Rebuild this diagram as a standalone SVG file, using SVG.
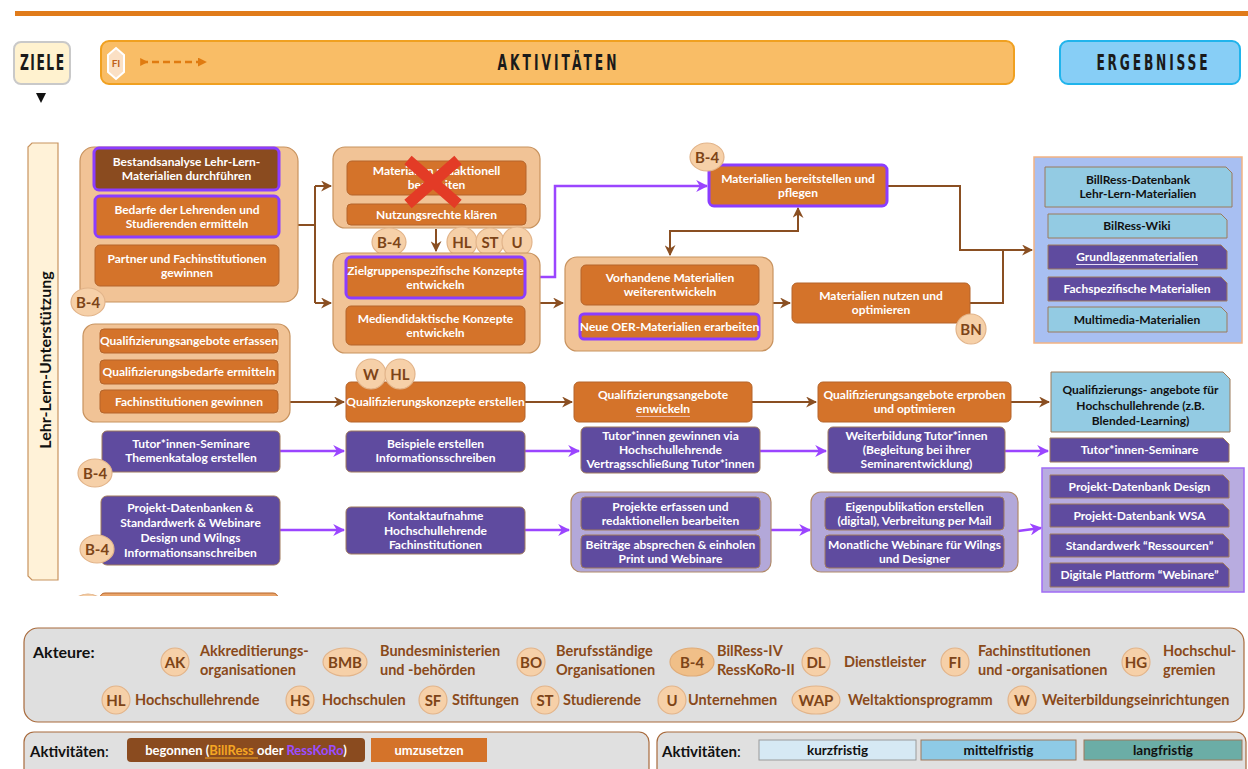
<svg xmlns="http://www.w3.org/2000/svg" width="1248" height="769" viewBox="0 0 1248 769">
<defs>
  <style>
    .o{fill:#d4732a;stroke:#b5652b;stroke-width:1}
    .d{fill:#8a4b1f;stroke:#8a4b1f;stroke-width:1}
    .p{fill:#5f4b9f;stroke:#a07a5c;stroke-width:1}
    .hl{stroke:#8b3dff;stroke-width:3}
    .cont{fill:#f1c396;stroke:#c8935f;stroke-width:1.2}
    .pcont{fill:#b3a8d9;stroke:#b08a6a;stroke-width:1.2}
    .lb{fill:#93cbe3;stroke:#9c7a5a;stroke-width:1}
    .t{font-family:Lato,"Open Sans",sans-serif;font-weight:700;font-size:12px;fill:#fff;text-anchor:middle}
    .tk{font-family:Lato,"Open Sans",sans-serif;font-weight:700;font-size:12px;fill:#111;text-anchor:middle}
    .bg{fill:#f6d0a8;stroke:#e2b48a;stroke-width:1.2}
    .bt{font-family:Lato,"Open Sans",sans-serif;font-weight:700;font-size:15px;fill:#7d4418;text-anchor:middle}
    .lt{font-family:Lato,"Open Sans",sans-serif;font-weight:700;font-size:14.5px;fill:#8a4a1a}
    .hd{font-family:"DejaVu Sans Condensed","DejaVu Sans",sans-serif;font-weight:700;font-size:21px;fill:#1a1a1a;text-anchor:middle}
    .cb{fill:none;stroke:#8a4f22;stroke-width:2}
    .cp{fill:none;stroke:#9b45ff;stroke-width:2.5}
  </style>
  <marker id="ab" viewBox="0 0 10 10" refX="9" refY="5" markerWidth="11" markerHeight="11" markerUnits="userSpaceOnUse" orient="auto-start-reverse">
    <path d="M0,0 L10,5 L0,10 L3,5z" fill="#8a4f22"/>
  </marker>
  <marker id="ap" viewBox="0 0 10 10" refX="9" refY="5" markerWidth="12" markerHeight="12" markerUnits="userSpaceOnUse" orient="auto">
    <path d="M0,0 L10,5 L0,10 L3,5z" fill="#9b45ff"/>
  </marker>
  <marker id="af" viewBox="0 0 10 10" refX="9" refY="5" markerWidth="9" markerHeight="9" markerUnits="userSpaceOnUse" orient="auto">
    <path d="M0,0 L10,5 L0,10z" fill="#e07b10"/>
  </marker>
  <marker id="afs" viewBox="0 0 10 10" refX="1" refY="5" markerWidth="8" markerHeight="8" markerUnits="userSpaceOnUse" orient="auto">
    <path d="M0,0 L10,5 L0,10z" fill="#e07b10"/>
  </marker>
  <clipPath id="cut"><rect x="70" y="590" width="220" height="6"/></clipPath>
</defs>

<rect width="1248" height="769" fill="#fff"/>

<!-- top rule -->
<rect x="15" y="11" width="1233" height="5" fill="#e07b1a"/>

<!-- column headers: narrow, letter-spaced capitals -->
<g id="ziele">
  <rect x="14" y="42" width="56" height="42" rx="7" fill="#fff2cf" stroke="#c9c9c9" stroke-width="2"/>
  <text class="hd" transform="translate(42,70) scale(0.65,1)" x="0" y="0" textLength="68" lengthAdjust="spacing">ZIELE</text>
  <path d="M36 93 H46 L41 103 Z" fill="#111"/>
</g>
<g id="aktivitaeten">
  <rect x="101" y="41" width="913" height="43" rx="8" fill="#f9bd66" stroke="#f0a020" stroke-width="2"/>
  <text class="hd" transform="translate(557,70) scale(0.65,1)" x="0" y="0" textLength="183" lengthAdjust="spacing">AKTIVITÄTEN</text>
  <polygon points="116,48 124,55 124,72 116,79 108,72 108,55" fill="#fbe0c4" stroke="#fff" stroke-width="2"/>
  <text x="116" y="67" font-family="Lato,sans-serif" font-size="10" font-weight="700" fill="#c0601a" text-anchor="middle">FI</text>
  <path d="M141 62 H206" stroke="#e07b10" stroke-width="2.5" stroke-dasharray="7,4" fill="none" marker-start="url(#afs)" marker-end="url(#af)"/>
</g>
<g id="ergebnisse">
  <rect x="1060" y="41" width="180" height="43" rx="8" fill="#87cef6" stroke="#20b4ec" stroke-width="2"/>
  <text class="hd" transform="translate(1152,70) scale(0.65,1)" x="0" y="0" textLength="171" lengthAdjust="spacing">ERGEBNISSE</text>
</g>

<!-- side label -->
<g id="side-label">
  <path d="M32 143 H58 V580 H32 L28 576 V147 Z" fill="#fff2d8" stroke="#c8935f" stroke-width="1.2"/>
  <text transform="translate(51,360) rotate(-90)" font-family="Lato,sans-serif" font-weight="700" font-size="16" fill="#111" text-anchor="middle">Lehr-Lern-Unterstützung</text>
</g>

<!-- connectors -->
<g id="connectors">
  <path class="cb" d="M298 225 H315"/>
  <path class="cb" d="M315 186 V303"/>
  <path class="cb" d="M315 186 H331" marker-end="url(#ab)"/>
  <path class="cb" d="M315 303 H331" marker-end="url(#ab)"/>
  <path class="cb" d="M436 229 V251" marker-end="url(#ab)"/>
  <path class="cp" d="M526 277 H555 V186 H707" marker-end="url(#ap)"/>
  <path class="cb" d="M540 303 H563" marker-end="url(#ab)"/>
  <path class="cb" d="M798 208 V231 H670 V255" marker-start="url(#ab)" marker-end="url(#ab)"/>
  <path class="cb" d="M773 303 H790" marker-end="url(#ab)"/>
  <path class="cb" d="M887 186 H960 V250 H1032" marker-end="url(#ab)"/>
  <path class="cb" d="M970 303 H1003 V250"/>

  <path class="cb" d="M278 402 H344" marker-end="url(#ab)"/>
  <path class="cb" d="M525 402 H572" marker-end="url(#ab)"/>
  <path class="cb" d="M752 402 H816" marker-end="url(#ab)"/>
  <path class="cb" d="M1011 402 H1049" marker-end="url(#ab)"/>

  <path class="cp" d="M280 451 H344" marker-end="url(#ap)"/>
  <path class="cp" d="M525 451 H579" marker-end="url(#ap)"/>
  <path class="cp" d="M760 451 H826" marker-end="url(#ap)"/>
  <path class="cp" d="M1005 451 H1048" marker-end="url(#ap)"/>

  <path class="cp" d="M280 530 H344" marker-end="url(#ap)"/>
  <path class="cp" d="M525 530 H569" marker-end="url(#ap)"/>
  <path class="cp" d="M771 530 H810" marker-end="url(#ap)"/>
  <path class="cp" d="M1018 531 L1041 528" marker-end="url(#ap)"/>
</g>

<!-- Row 1: materials -->
<g id="analyse">
  <rect class="cont" x="80" y="147" width="218" height="155" rx="14"/>
  <rect class="d hl" x="94" y="148" width="185" height="42" rx="5"/>
  <text class="t" x="186.5" y="166">Bestandsanalyse Lehr-Lern-</text>
  <text class="t" x="186.5" y="180">Materialien durchführen</text>
  <rect class="o hl" x="95" y="196" width="184" height="41" rx="5"/>
  <text class="t" x="187" y="213.5">Bedarfe der Lehrenden und</text>
  <text class="t" x="187" y="227.5">Studierenden ermitteln</text>
  <rect class="o" x="95" y="245" width="184" height="41" rx="5"/>
  <text class="t" x="187" y="262.5">Partner und Fachinstitutionen</text>
  <text class="t" x="187" y="276.5">gewinnen</text>
  <ellipse class="bg" cx="88" cy="302" rx="17" ry="14"/>
  <text class="bt" x="88" y="307.5">B-4</text>
</g>

<g id="redaktion">
  <rect class="cont" x="333" y="147" width="207" height="81" rx="12"/>
  <rect class="o" x="347" y="161" width="179" height="34" rx="5"/>
  <text class="t" x="436.5" y="175">Materialien redaktionell</text>
  <text class="t" x="436.5" y="189">bearbeiten</text>
  <rect class="o" x="347" y="204" width="179" height="21" rx="4"/>
  <text class="t" x="436.5" y="218.5">Nutzungsrechte klären</text>
  <path d="M408 160 L458 204 M458 160 L408 204" stroke="#e33b26" stroke-width="11"/>
</g>

<g id="badges-r1">
  <ellipse class="bg" cx="389" cy="242" rx="17" ry="14"/>
  <text class="bt" x="389" y="247.5">B-4</text>
  <circle class="bg" cx="462" cy="242" r="15"/>
  <text class="bt" x="462" y="247.5">HL</text>
  <circle class="bg" cx="490" cy="242" r="14"/>
  <text class="bt" x="490" y="247.5">ST</text>
  <circle class="bg" cx="517" cy="242" r="15"/>
  <text class="bt" x="517" y="247.5">U</text>
</g>

<g id="konzepte">
  <rect class="cont" x="333" y="253" width="207" height="100" rx="12"/>
  <rect class="o hl" x="346" y="257" width="179" height="41" rx="5"/>
  <text class="t" x="435.5" y="274.5">Zielgruppenspezifische Konzepte</text>
  <text class="t" x="435.5" y="288.5">entwickeln</text>
  <rect class="o" x="346" y="306" width="179" height="39" rx="5"/>
  <text class="t" x="435.5" y="322.5">Mediendidaktische Konzepte</text>
  <text class="t" x="435.5" y="336.5">entwickeln</text>
</g>

<g id="bereitstellen">
  <rect class="o hl" x="709" y="165" width="178" height="41" rx="5"/>
  <text class="t" x="798" y="182.5">Materialien bereitstellen und</text>
  <text class="t" x="798" y="196.5">pflegen</text>
  <ellipse class="bg" cx="707" cy="157" rx="17" ry="14"/>
  <text class="bt" x="707" y="162.5">B-4</text>
</g>

<g id="weiterentwickeln">
  <rect class="cont" x="565" y="257" width="208" height="94" rx="12"/>
  <rect class="o" x="581" y="265" width="178" height="40" rx="5"/>
  <text class="t" x="670" y="282">Vorhandene Materialien</text>
  <text class="t" x="670" y="296">weiterentwickeln</text>
  <rect class="o hl" x="580" y="314" width="179" height="25" rx="4"/>
  <text class="t" x="669.5" y="330.5">Neue OER-Materialien erarbeiten</text>
</g>

<g id="nutzen">
  <rect class="o" x="792" y="283" width="178" height="40" rx="5"/>
  <text class="t" x="881" y="300">Materialien nutzen und</text>
  <text class="t" x="881" y="314">optimieren</text>
  <circle class="bg" cx="971" cy="329" r="15"/>
  <text class="bt" x="971" y="334.5">BN</text>
</g>

<g id="ergebnis-materialien">
  <rect x="1034" y="157" width="208" height="186" fill="#a8bff2" stroke="#f2b383" stroke-width="1.5"/>
  <path class="lb" d="M1045 167 H1226 L1232 173 V207 H1045 Z"/>
  <text class="tk" x="1138" y="184">BillRess-Datenbank</text>
  <text class="tk" x="1138" y="198">Lehr-Lern-Materialien</text>
  <path class="lb" d="M1048 214 H1221 L1227 220 V238 H1048 Z"/>
  <text class="tk" x="1137" y="230">BilRess-Wiki</text>
  <path class="p" d="M1048 245 H1221 L1227 251 V269 H1048 Z"/>
  <text class="t" x="1137" y="261">Grundlagenmaterialien</text>
  <path d="M1076 264.5 H1198" stroke="#e8ddf5" stroke-width="1"/>
  <path class="p" d="M1048 277 H1221 L1227 283 V301 H1048 Z"/>
  <text class="t" x="1137" y="293">Fachspezifische Materialien</text>
  <path class="lb" d="M1048 307 H1221 L1227 313 V332 H1048 Z"/>
  <text class="tk" x="1137" y="323.5">Multimedia-Materialien</text>
</g>

<!-- Row 2: qualification -->
<g id="qualifizierung-basis">
  <rect class="cont" x="83" y="324" width="207" height="98" rx="12"/>
  <rect class="o" x="100" y="329" width="178" height="24" rx="4"/>
  <text class="t" x="189" y="345">Qualifizierungsangebote erfassen</text>
  <rect class="o" x="100" y="360" width="178" height="24" rx="4"/>
  <text class="t" x="189" y="376">Qualifizierungsbedarfe ermitteln</text>
  <rect class="o" x="100" y="390" width="178" height="23" rx="4"/>
  <text class="t" x="189" y="405.5">Fachinstitutionen gewinnen</text>
</g>

<g id="qualifizierungskonzepte">
  <rect class="o" x="346" y="382" width="179" height="40" rx="5"/>
  <text class="t" x="435.5" y="406">Qualifizierungskonzepte erstellen</text>
  <circle class="bg" cx="371" cy="374" r="15"/>
  <text class="bt" x="371" y="379.5">W</text>
  <circle class="bg" cx="400" cy="374" r="15"/>
  <text class="bt" x="400" y="379.5">HL</text>
</g>

<g id="qualifizierungsangebote-entwickeln">
  <rect class="o" x="574" y="382" width="178" height="40" rx="5"/>
  <text class="t" x="663" y="399">Qualifizierungsangebote</text>
  <text class="t" x="663" y="413">enwickeln</text>
  <path d="M636 416.5 H690" stroke="#f0b8a8" stroke-width="1"/>
</g>

<g id="qualifizierungsangebote-erproben">
  <rect class="o" x="818" y="382" width="193" height="40" rx="5"/>
  <text class="t" x="914.5" y="399">Qualifizierungsangebote erproben</text>
  <text class="t" x="914.5" y="413">und optimieren</text>
</g>

<g id="ergebnis-qualifizierung">
  <path class="lb" d="M1051 372 H1223 L1230 379 V432 H1051 Z"/>
  <text class="tk" x="1140.5" y="394">Qualifizierungs- angebote für</text>
  <text class="tk" x="1140.5" y="410">Hochschullehrende (z.B.</text>
  <text class="tk" x="1140.5" y="425">Blended-Learning)</text>
</g>

<!-- Row 3: tutors -->
<g id="tutor-themenkatalog">
  <rect class="p" x="102" y="431" width="178" height="41" rx="5"/>
  <text class="t" x="191" y="448">Tutor*innen-Seminare</text>
  <text class="t" x="191" y="462">Themenkatalog erstellen</text>
  <ellipse class="bg" cx="95" cy="473" rx="17" ry="14"/>
  <text class="bt" x="95" y="478.5">B-4</text>
</g>

<g id="beispiele">
  <rect class="p" x="346" y="431" width="179" height="41" rx="5"/>
  <text class="t" x="435.5" y="448">Beispiele erstellen</text>
  <text class="t" x="435.5" y="462">Informationsschreiben</text>
</g>

<g id="tutor-gewinnen">
  <rect class="p" x="581" y="427" width="179" height="46" rx="5"/>
  <text class="t" x="670.5" y="440">Tutor*innen gewinnen via</text>
  <text class="t" x="670.5" y="454">Hochschullehrende</text>
  <text class="t" x="670.5" y="468">Vertragsschließung Tutor*innen</text>
</g>

<g id="weiterbildung-tutor">
  <rect class="p" x="828" y="427" width="177" height="46" rx="5"/>
  <text class="t" x="916.5" y="440">Weiterbildung Tutor*innen</text>
  <text class="t" x="916.5" y="454">(Begleitung bei ihrer</text>
  <text class="t" x="916.5" y="468">Seminarentwicklung)</text>
</g>

<g id="ergebnis-tutor">
  <path class="p" d="M1050 438 H1223 L1229 444 V462 H1050 Z"/>
  <text class="t" x="1139.5" y="454">Tutor*innen-Seminare</text>
</g>

<!-- Row 4: projects -->
<g id="projekt-datenbanken">
  <rect class="p" x="101" y="496" width="179" height="69" rx="6"/>
  <text class="t" x="190.5" y="512">Projekt-Datenbanken &amp;</text>
  <text class="t" x="190.5" y="527">Standardwerk &amp; Webinare</text>
  <text class="t" x="190.5" y="542">Design und Wilngs</text>
  <text class="t" x="190.5" y="557">Informationsanschreiben</text>
  <ellipse class="bg" cx="97" cy="549" rx="17" ry="14"/>
  <text class="bt" x="97" y="554.5">B-4</text>
</g>

<g id="kontaktaufnahme">
  <rect class="p" x="346" y="507" width="179" height="47" rx="5"/>
  <text class="t" x="435.5" y="520">Kontaktaufnahme</text>
  <text class="t" x="435.5" y="534.5">Hochschullehrende</text>
  <text class="t" x="435.5" y="549">Fachinstitutionen</text>
</g>

<g id="projekte-erfassen">
  <rect class="pcont" x="571" y="492" width="200" height="80" rx="10"/>
  <rect class="p" x="581" y="497" width="179" height="33" rx="4"/>
  <text class="t" x="670.5" y="510.5">Projekte erfassen und</text>
  <text class="t" x="670.5" y="524.5">redaktionellen bearbeiten</text>
  <rect class="p" x="581" y="535" width="179" height="33" rx="4"/>
  <text class="t" x="670.5" y="548.5">Beiträge absprechen &amp; einholen</text>
  <text class="t" x="670.5" y="562.5">Print und Webinare</text>
</g>

<g id="eigenpublikation">
  <rect class="pcont" x="811" y="492" width="207" height="80" rx="10"/>
  <rect class="p" x="825" y="497" width="179" height="33" rx="4"/>
  <text class="t" x="914.5" y="510.5">Eigenpublikation erstellen</text>
  <text class="t" x="914.5" y="524.5">(digital), Verbreitung per Mail</text>
  <rect class="p" x="825" y="535" width="179" height="33" rx="4"/>
  <text class="t" x="914.5" y="548.5">Monatliche Webinare für Wilngs</text>
  <text class="t" x="914.5" y="562.5">und Designer</text>
</g>

<g id="ergebnis-projekte">
  <rect x="1042" y="468" width="202" height="124" fill="#b8ace0" stroke="#a06cf5" stroke-width="1.5"/>
  <path class="p" d="M1050 475 H1223 L1229 481 V498 H1050 Z"/>
  <text class="t" x="1139.5" y="490.5">Projekt-Datenbank Design</text>
  <path class="p" d="M1050 504 H1223 L1229 510 V527 H1050 Z"/>
  <text class="t" x="1139.5" y="519.5">Projekt-Datenbank WSA</text>
  <path class="p" d="M1050 534 H1223 L1229 540 V557 H1050 Z"/>
  <text class="t" x="1139.5" y="549.5">Standardwerk “Ressourcen”</text>
  <path class="p" d="M1050 563 H1223 L1229 569 V587 H1050 Z"/>
  <text class="t" x="1139.5" y="579">Digitale Plattform “Webinare”</text>
</g>

<!-- next row, cut off at the page edge -->
<g id="row-cut" clip-path="url(#cut)">
  <ellipse class="bg" cx="88" cy="607" rx="16" ry="13"/>
  <rect x="100" y="593" width="178" height="30" rx="5" fill="#e9a46a" stroke="#b5652b"/>
</g>

<!-- actors legend -->
<g id="legende-akteure">
  <rect x="24" y="628" width="1220" height="94" rx="14" fill="#dfdfdf" stroke="#a86a3c" stroke-width="1.2"/>
  <text x="33" y="658" font-family="Lato,sans-serif" font-weight="700" font-size="16" fill="#111">Akteure:</text>

  <circle class="bg" cx="175" cy="662" r="14"/><text class="bt" x="175" y="667.5">AK</text>
  <text class="lt" x="200" y="656">Akkreditierungs-</text><text class="lt" x="200" y="675">organisationen</text>

  <ellipse class="bg" cx="345" cy="662" rx="22" ry="14"/><text class="bt" x="345" y="667.5">BMB</text>
  <text class="lt" x="380" y="656">Bundesministerien</text><text class="lt" x="380" y="675">und -behörden</text>

  <circle class="bg" cx="531" cy="662" r="14"/><text class="bt" x="531" y="667.5">BO</text>
  <text class="lt" x="556" y="656">Berufsständige</text><text class="lt" x="556" y="675">Organisationen</text>

  <ellipse cx="692" cy="662" rx="22" ry="14" fill="#f0bf88" stroke="#e0ac78" stroke-width="1.2"/><text class="bt" x="692" y="667.5">B-4</text>
  <text class="lt" x="717" y="656">BilRess-IV</text><text class="lt" x="717" y="675">RessKoRo-II</text>

  <circle class="bg" cx="816" cy="662" r="14"/><text class="bt" x="816" y="667.5">DL</text>
  <text class="lt" x="844" y="667">Dienstleister</text>

  <circle class="bg" cx="955" cy="662" r="14"/><text class="bt" x="955" y="667.5">FI</text>
  <text class="lt" x="978" y="656">Fachinstitutionen</text><text class="lt" x="978" y="675">und -organisationen</text>

  <circle class="bg" cx="1136" cy="662" r="14"/><text class="bt" x="1136" y="667.5">HG</text>
  <text class="lt" x="1163" y="656">Hochschul-</text><text class="lt" x="1163" y="675">gremien</text>

  <circle class="bg" cx="116" cy="700" r="14"/><text class="bt" x="116" y="705.5">HL</text>
  <text class="lt" x="135" y="705">Hochschullehrende</text>
  <circle class="bg" cx="300" cy="700" r="14"/><text class="bt" x="300" y="705.5">HS</text>
  <text class="lt" x="322" y="705">Hochschulen</text>
  <circle class="bg" cx="433" cy="700" r="14"/><text class="bt" x="433" y="705.5">SF</text>
  <text class="lt" x="452" y="705">Stiftungen</text>
  <circle class="bg" cx="545" cy="700" r="14"/><text class="bt" x="545" y="705.5">ST</text>
  <text class="lt" x="563" y="705">Studierende</text>
  <circle class="bg" cx="672" cy="700" r="14"/><text class="bt" x="672" y="705.5">U</text>
  <text class="lt" x="688" y="705">Unternehmen</text>
  <ellipse class="bg" cx="816" cy="700" rx="24" ry="14"/><text class="bt" x="816" y="705.5">WAP</text>
  <text class="lt" x="848" y="705">Weltaktionsprogramm</text>
  <circle class="bg" cx="1022" cy="700" r="14"/><text class="bt" x="1022" y="705.5">W</text>
  <text class="lt" x="1042" y="705">Weiterbildungseinrichtungen</text>
</g>

<!-- activity status legend -->
<g id="legende-status">
  <rect x="24" y="732" width="625" height="50" rx="10" fill="#e0e0e0" stroke="#a86a3c" stroke-width="1.2"/>
  <text x="30" y="757" font-family="Lato,sans-serif" font-size="15" fill="#111"><tspan font-weight="700">Aktivitäten</tspan>:</text>
  <rect x="127" y="738" width="238" height="24" rx="4" fill="#8a4b1f"/>
  <text x="246" y="755" font-family="Lato,sans-serif" font-weight="700" font-size="13" fill="#fff" text-anchor="middle">begonnen (<tspan fill="#f5a623">BillRess</tspan> oder <tspan fill="#9a4dff">RessKoRo</tspan>)</text>
  <path d="M205 758 H258" stroke="#f5a623" stroke-width="1"/>
  <rect x="371" y="738" width="116" height="24" fill="#d4732a"/>
  <text x="429" y="755" font-family="Lato,sans-serif" font-weight="700" font-size="13" fill="#fff" text-anchor="middle">umzusetzen</text>
</g>

<g id="legende-frist">
  <rect x="657" y="732" width="589" height="50" rx="10" fill="#e0e0e0" stroke="#a86a3c" stroke-width="1.2"/>
  <text x="662" y="757" font-family="Lato,sans-serif" font-size="15" fill="#111"><tspan font-weight="700">Aktivitäten</tspan>:</text>
  <rect x="759" y="740" width="157" height="20" fill="#d6e9f4" stroke="#9a9a9a"/>
  <text x="837.5" y="755" font-family="Lato,sans-serif" font-weight="700" font-size="13.5" fill="#111" text-anchor="middle">kurzfristig</text>
  <rect x="921" y="740" width="155" height="20" fill="#8ecae6" stroke="#a0785a"/>
  <text x="998.5" y="755" font-family="Lato,sans-serif" font-weight="700" font-size="13.5" fill="#111" text-anchor="middle">mittelfristig</text>
  <rect x="1084" y="740" width="158" height="20" fill="#6bada6" stroke="#a0785a"/>
  <text x="1163" y="755" font-family="Lato,sans-serif" font-weight="700" font-size="13.5" fill="#111" text-anchor="middle">langfristig</text>
</g>
</svg>
